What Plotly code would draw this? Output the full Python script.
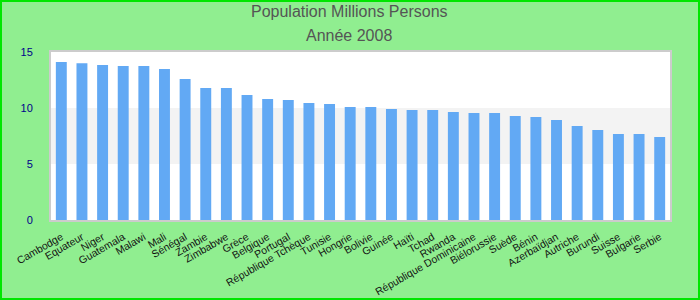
import plotly.graph_objects as go

countries = ["Cambodge", "Equateur", "Niger", "Guatemala", "Malawi", "Mali", "Sénégal",
             "Zambie", "Zimbabwe", "Grèce", "Belgique", "Portugal", "République Tchèque",
             "Tunisie", "Hongrie", "Bolivie", "Guinée", "Haïti", "Tchad", "Rwanda",
             "République Dominicaine", "Biélorussie", "Suède", "Bénin", "Azerbaïdjan",
             "Autriche", "Burundi", "Suisse", "Bulgarie", "Serbie"]
population = [14.1, 14.0, 13.84, 13.75, 13.75, 13.48, 12.59, 11.79, 11.79, 11.16,
              10.8, 10.71, 10.45, 10.36, 10.09, 10.09, 9.91, 9.82, 9.82, 9.64,
              9.55, 9.55, 9.29, 9.2, 8.93, 8.39, 8.04, 7.68, 7.68, 7.41]
y_ticks = [0, 5, 10, 15]
title_lines = ["Population Millions Persons", "Année 2008"]

W, H = 700, 300
L, R, T, B = 51, 30, 52, 80
pw, ph = W - L - R, H - T - B


def py2paper(py):
    return (T + ph - py) / ph


def px2paper(px):
    return (px - L) / pw


fig = go.Figure(go.Bar(x=countries, y=population, marker_color="#62a9f4",
                       marker_line_width=0))

fig.add_shape(type="rect", xref="paper", yref="y", x0=0, x1=1, y0=5, y1=10,
              fillcolor="#f3f3f3", line_width=0, layer="below")
# figure border
fig.add_shape(type="rect", xref="paper", yref="paper",
              x0=px2paper(1), x1=px2paper(W - 1), y0=py2paper(H - 1), y1=py2paper(1),
              line=dict(color="#00e600", width=2), fillcolor="rgba(0,0,0,0)")

for txt, py in zip(title_lines, [12, 36]):
    fig.add_annotation(text=txt, xref="paper", yref="paper", x=px2paper(349), y=py2paper(py),
                       xanchor="center", yanchor="middle", showarrow=False,
                       font=dict(size=16, color="#555555"))

fig.update_layout(
    width=W, height=H,
    margin=dict(l=L, r=R, t=T, b=B, autoexpand=False),
    paper_bgcolor="#90ee90", plot_bgcolor="white",
    bargap=0.47,
    showlegend=False,
    font=dict(family="Liberation Sans, Arial, sans-serif"),
    xaxis=dict(tickangle=-30, tickfont=dict(size=10.5, color="#111111"), showgrid=False,
               showline=True, linecolor="#cccccc", linewidth=2, mirror=True, ticks="",
               ticklabelstandoff=5, automargin=False),
    yaxis=dict(range=[0, 15], tickvals=y_ticks, tickfont=dict(size=11, color="#00008b"),
               showgrid=False, zeroline=False, showline=True, linecolor="#cccccc",
               linewidth=2, mirror=True, ticks="", ticklabelstandoff=14, automargin=False),
)

fig.write_html("out.html")
